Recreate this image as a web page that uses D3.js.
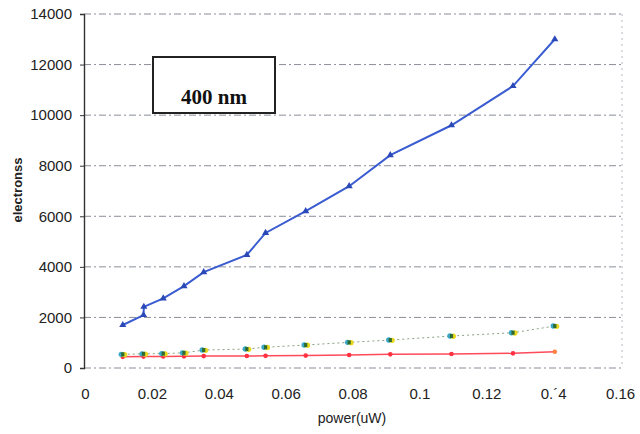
<!DOCTYPE html>
<html><head><meta charset="utf-8">
<script src="https://cdn.jsdelivr.net/npm/d3@7"></script>
<style>
html,body{margin:0;padding:0;background:#fff;}
svg{display:block;}
</style></head>
<body>
<svg id="chart" width="640" height="434"></svg>
<script>
// ---- data ----
const blueX = [0.0113,0.0175,0.0176,0.0234,0.0296,0.0355,0.0484,0.0540,0.0660,0.0790,0.0913,0.1096,0.1280,0.1405];
const blueY = [1700,2095,2420,2755,3240,3790,4470,5340,6200,7190,8420,9600,11150,13000];
const lowX  = [0.0113,0.0175,0.0234,0.0296,0.0355,0.0484,0.0540,0.0660,0.0790,0.0913,0.1096,0.1280,0.1405];
const greenY = [540,560,570,600,710,750,820,910,1015,1105,1265,1395,1660];
const redY   = [440,450,455,460,470,474,480,490,515,540,553,580,645];
const xTicks = [0,0.02,0.04,0.06,0.08,0.1,0.12,0.14,0.16];
const xTickLabels = ["0","0.02","0.04","0.06","0.08","0.1","0.12","0.\u00B44","0.16"];
const yTicks = [0,2000,4000,6000,8000,10000,12000,14000];
const xTitle = "power(uW)";
const yTitle = "electronss";
const boxLabel = "400 nm";

// ---- layout ----
const svg = d3.select("#chart");
const x = d3.scaleLinear().domain([0,0.16]).range([85,620]);
const y = d3.scaleLinear().domain([0,14000]).range([368,14]);
const font = "'Liberation Sans', Arial, sans-serif";

// grid lines
svg.append("g").selectAll("line").data(yTicks).join("line")
  .attr("x1", 84).attr("x2", 622)
  .attr("y1", d=>y(d)).attr("y2", d=>y(d))
  .attr("stroke", "#5a5f70")
  .attr("stroke-width", 1)
  .attr("stroke-dasharray", "7,3,2,3")
  .attr("opacity", 0.7);

// right dotted border
svg.append("line").attr("x1",622).attr("x2",622).attr("y1",y(14000)).attr("y2",y(0))
  .attr("stroke","#889").attr("stroke-dasharray","2,4").attr("opacity",0.6);

// y axis
const yAxis = d3.axisLeft(y).tickValues(yTicks).tickSize(4).tickPadding(8).tickFormat(d3.format("d"));
const ya = svg.append("g").attr("transform","translate(84,0)").call(yAxis);
ya.select(".domain").attr("stroke","#333").attr("stroke-width",1.4);
ya.selectAll(".tick line").attr("stroke","#333");
ya.selectAll("text").attr("font-family",font).attr("font-size",15).attr("fill","#222");

// x axis labels
const xAxis = d3.axisBottom(x).tickValues(xTicks).tickSize(0).tickPadding(20)
  .tickFormat((d,i)=>xTickLabels[i]);
const xa = svg.append("g").attr("transform",`translate(0,${y(0)})`).call(xAxis);
xa.select(".domain").remove();
xa.selectAll("text").attr("font-family",font).attr("font-size",15).attr("fill","#222");

// axis titles
svg.append("text").attr("x",352).attr("y",423).attr("text-anchor","middle")
  .attr("font-family",font).attr("font-size",14).attr("fill","#222").text(xTitle);
svg.append("text").attr("transform","translate(22,190) rotate(-90)").attr("text-anchor","middle")
  .attr("font-family",font).attr("font-size",13).attr("font-weight","bold").attr("fill","#222").text(yTitle);

// label box
svg.append("rect").attr("x",153).attr("y",57).attr("width",122).attr("height",56)
  .attr("fill","#fff").attr("stroke","#222").attr("stroke-width",2);
svg.append("text").attr("x",214).attr("y",104).attr("text-anchor","middle")
  .attr("font-family","'Liberation Serif','Times New Roman',serif").attr("font-weight","bold")
  .attr("font-size",21).attr("fill","#111").text(boxLabel);

const line = d3.line().x(d=>x(d[0])).y(d=>y(d[1]));

// red series
const redData = lowX.map((v,i)=>[v,redY[i]]);
svg.append("path").datum(redData).attr("d",line).attr("fill","none")
  .attr("stroke","#ff4a5a").attr("stroke-width",1.5);
svg.append("g").selectAll("circle").data(redData).join("circle")
  .attr("cx",d=>x(d[0])).attr("cy",d=>y(d[1])).attr("r",2.3)
  .attr("fill",(d,i)=> i===redData.length-1 ? "#ff8040" : "#ff3040");

// green/yellow series
const greenData = lowX.map((v,i)=>[v,greenY[i]]);
svg.append("path").datum(greenData).attr("d",line).attr("fill","none")
  .attr("stroke","#6a8a60").attr("stroke-width",1).attr("stroke-dasharray","2,3").attr("opacity",0.8);
const gm = svg.append("g").selectAll("g").data(greenData).join("g")
  .attr("transform",d=>`translate(${x(d[0])},${y(d[1])})`);
gm.append("circle").attr("cx",-1.5).attr("cy",0).attr("r",2.7).attr("fill","#3aa8c8");
gm.append("circle").attr("cx",1.8).attr("cy",0.3).attr("r",2.7).attr("fill","#e8d820");
gm.append("rect").attr("x",-1.6).attr("y",-2).attr("width",3.2).attr("height",4).attr("fill","#2f6a30");

// blue series
const blueData = blueX.map((v,i)=>[v,blueY[i]]);
svg.append("path").datum(blueData).attr("d",line).attr("fill","none")
  .attr("stroke","#3a5cd0").attr("stroke-width",2);
svg.append("g").selectAll("path").data(blueData).join("path")
  .attr("d", d3.symbol().type(d3.symbolTriangle).size(22))
  .attr("transform",d=>`translate(${x(d[0])},${y(d[1])})`)
  .attr("fill","#2a48b8");
</script>
</body></html>
